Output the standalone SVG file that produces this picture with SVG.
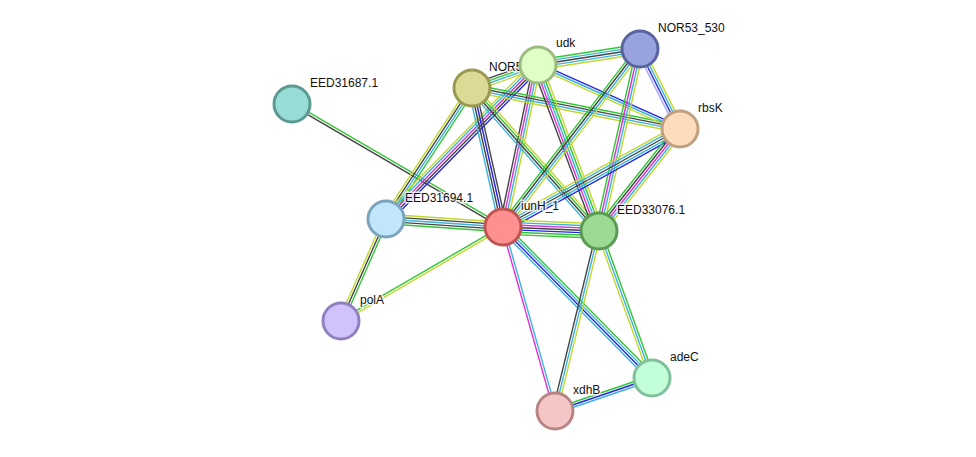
<svg xmlns="http://www.w3.org/2000/svg" width="976" height="457" viewBox="0 0 976 457">
<style>
line{stroke-width:1.4;fill:none}
.g{stroke:#33c733}.y{stroke:#c3d82e}.k{stroke:#444}.c{stroke:#3ab4dc}.b{stroke:#2424ee}.m{stroke:#dd2edd}.l{stroke:#a8a8ff}
circle{stroke-width:3}
text{font-family:"Liberation Sans",Arial,sans-serif;font-size:12px;fill:#111;stroke:#fff;stroke-width:3;stroke-opacity:0.8;paint-order:stroke;stroke-linejoin:round}
</style>
<rect width="976" height="457" fill="#fff"/>
<g id="edges">
<g transform="translate(292,104) rotate(30.24)"><line x2="244.2" y1="-1.2" y2="-1.2" class="g"/><line x2="244.2" y1="1.2" y2="1.2" class="k"/></g>
<g transform="translate(386,219) rotate(113.81)"><line x2="111.5" y1="-2.4" y2="-2.4" class="g"/><line x2="111.5" class="k"/><line x2="111.5" y1="2.4" y2="2.4" class="y"/></g>
<g transform="translate(341,321) rotate(-30.12)"><line x2="187.3" y1="-1.2" y2="-1.2" class="g"/><line x2="187.3" y1="1.2" y2="1.2" class="y"/></g>
<g transform="translate(386,219) rotate(3.91)"><line x2="117.3" y1="-4.8" y2="-4.8" class="y"/><line x2="117.3" y1="-2.4" y2="-2.4" class="k"/><line x2="117.3" class="c"/><line x2="117.3" y1="2.4" y2="2.4" class="k"/><line x2="117.3" y1="4.8" y2="4.8" class="g"/></g>
<g transform="translate(386,219) rotate(-56.72)"><line x2="156.7" y1="-3.6" y2="-3.6" class="y"/><line x2="156.7" y1="-1.2" y2="-1.2" class="k"/><line x2="156.7" y1="1.2" y2="1.2" class="c"/><line x2="156.7" y1="3.6" y2="3.6" class="g"/></g>
<g transform="translate(386,219) rotate(-45.56)"><line x2="215.7" y1="-4.8" y2="-4.8" class="y"/><line x2="215.7" y1="-2.4" y2="-2.4" class="c"/><line x2="215.7" class="m"/><line x2="215.7" y1="2.4" y2="2.4" class="k"/><line x2="215.7" y1="4.8" y2="4.8" class="b"/></g>
<g transform="translate(472,88) rotate(77.43)"><line x2="142.4" y1="-3.6" y2="-3.6" class="k"/><line x2="142.4" y1="-1.2" y2="-1.2" class="b"/><line x2="142.4" y1="1.2" y2="1.2" class="k"/><line x2="142.4" y1="3.6" y2="3.6" class="c"/></g>
<g transform="translate(537,65) rotate(101.85)"><line x2="165.5" y1="-3.6" y2="-3.6" class="y"/><line x2="165.5" y1="-1.2" y2="-1.2" class="c"/><line x2="165.5" y1="1.2" y2="1.2" class="m"/><line x2="165.5" y1="3.6" y2="3.6" class="k"/></g>
<g transform="translate(472,88) rotate(-19.49)"><line x2="68.9" y1="-3.6" y2="-3.6" class="k"/><line x2="68.9" y1="-1.2" y2="-1.2" class="g"/><line x2="68.9" y1="1.2" y2="1.2" class="c"/><line x2="68.9" y1="3.6" y2="3.6" class="y"/></g>
<g transform="translate(472,88) rotate(11.15)"><line x2="212" y1="-3.6" y2="-3.6" class="g"/><line x2="212" y1="-1.2" y2="-1.2" class="k"/><line x2="212" y1="1.2" y2="1.2" class="c"/><line x2="212" y1="3.6" y2="3.6" class="y"/></g>
<g transform="translate(472,88) rotate(48.39)"><line x2="191.3" y1="-3.6" y2="-3.6" class="y"/><line x2="191.3" y1="-1.2" y2="-1.2" class="g"/><line x2="191.3" y1="1.2" y2="1.2" class="k"/><line x2="191.3" y1="3.6" y2="3.6" class="c"/></g>
<g transform="translate(537,65) rotate(-8.83)"><line x2="104.2" y1="-4.8" y2="-4.8" class="g"/><line x2="104.2" y1="-2.4" y2="-2.4" class="c"/><line x2="104.2" class="k"/><line x2="104.2" y1="2.4" y2="2.4" class="c"/><line x2="104.2" y1="4.8" y2="4.8" class="y"/></g>
<g transform="translate(537,65) rotate(24.11)"><line x2="156.7" y1="-2.4" y2="-2.4" class="b"/><line x2="156.7" class="c"/><line x2="156.7" y1="2.4" y2="2.4" class="y"/></g>
<g transform="translate(537,65) rotate(69.52)"><line x2="177.2" y1="-4.8" y2="-4.8" class="y"/><line x2="177.2" y1="-2.4" y2="-2.4" class="g"/><line x2="177.2" class="c"/><line x2="177.2" y1="2.4" y2="2.4" class="m"/><line x2="177.2" y1="4.8" y2="4.8" class="k"/></g>
<g transform="translate(640,49) rotate(63.43)"><line x2="89.4" y1="-3.6" y2="-3.6" class="y"/><line x2="89.4" y1="-1.2" y2="-1.2" class="c"/><line x2="89.4" y1="1.2" y2="1.2" class="b"/><line x2="89.4" y1="3.6" y2="3.6" class="l"/></g>
<g transform="translate(640,49) rotate(127.59)"><line x2="224.6" y1="-3.6" y2="-3.6" class="y"/><line x2="224.6" y1="-1.2" y2="-1.2" class="c"/><line x2="224.6" y1="1.2" y2="1.2" class="k"/><line x2="224.6" y1="3.6" y2="3.6" class="g"/></g>
<g transform="translate(640,49) rotate(102.70)"><line x2="186.6" y1="-3.6" y2="-3.6" class="y"/><line x2="186.6" y1="-1.2" y2="-1.2" class="c"/><line x2="186.6" y1="1.2" y2="1.2" class="m"/><line x2="186.6" y1="3.6" y2="3.6" class="g"/></g>
<g transform="translate(680,129) rotate(151.03)"><line x2="202.3" y1="-4.8" y2="-4.8" class="b"/><line x2="202.3" y1="-2.4" y2="-2.4" class="c"/><line x2="202.3" class="k"/><line x2="202.3" y1="2.4" y2="2.4" class="c"/><line x2="202.3" y1="4.8" y2="4.8" class="y"/></g>
<g transform="translate(680,129) rotate(128.45)"><line x2="130.2" y1="-4.8" y2="-4.8" class="y"/><line x2="130.2" y1="-2.4" y2="-2.4" class="c"/><line x2="130.2" class="m"/><line x2="130.2" y1="2.4" y2="2.4" class="k"/><line x2="130.2" y1="4.8" y2="4.8" class="g"/></g>
<g transform="translate(503,227) rotate(2.39)"><line x2="96.1" y1="-7.2" y2="-7.2" class="y"/><line x2="96.1" y1="-4.8" y2="-4.8" class="c"/><line x2="96.1" y1="-2.4" y2="-2.4" class="m"/><line x2="96.1" class="k"/><line x2="96.1" y1="2.4" y2="2.4" class="b"/><line x2="96.1" y1="4.8" y2="4.8" class="g"/><line x2="96.1" y1="7.2" y2="7.2" class="g"/></g>
<g transform="translate(503,227) rotate(74.22)"><line x2="191.2" y1="-1.2" y2="-1.2" class="c"/><line x2="191.2" y1="1.2" y2="1.2" class="m"/></g>
<g transform="translate(503,227) rotate(45.38)"><line x2="212.1" y1="-3.6" y2="-3.6" class="g"/><line x2="212.1" y1="-1.2" y2="-1.2" class="c"/><line x2="212.1" y1="1.2" y2="1.2" class="b"/><line x2="212.1" y1="3.6" y2="3.6" class="c"/></g>
<g transform="translate(599,231) rotate(103.74)"><line x2="185.3" y1="-2.4" y2="-2.4" class="y"/><line x2="185.3" class="c"/><line x2="185.3" y1="2.4" y2="2.4" class="k"/></g>
<g transform="translate(599,231) rotate(70.17)"><line x2="156.3" y1="-2.4" y2="-2.4" class="g"/><line x2="156.3" class="c"/><line x2="156.3" y1="2.4" y2="2.4" class="y"/></g>
<g transform="translate(555,411) rotate(-18.79)"><line x2="102.5" y1="-2.4" y2="-2.4" class="g"/><line x2="102.5" class="b"/><line x2="102.5" y1="2.4" y2="2.4" class="c"/></g>
</g>
<g id="EED31687.1"><circle cx="292" cy="104" r="18" fill="#98ddd5" stroke="#5a9a92"/><text x="310" y="87">EED31687.1</text></g>
<g id="NOR5"><circle cx="472" cy="88" r="18" fill="#dcdb96" stroke="#9a994f"/><text x="489" y="71">NOR5</text></g>
<g id="udk"><circle cx="538" cy="65" r="18" fill="#dfffc6" stroke="#9cbb80"/><text x="556" y="47">udk</text></g>
<g id="NOR53_530"><circle cx="640" cy="49" r="18" fill="#98a3de" stroke="#5863a0"/><text x="658" y="32">NOR53_530</text></g>
<g id="rbsK"><circle cx="680" cy="129" r="18" fill="#fcdcbc" stroke="#c0a080"/><text x="698" y="112">rbsK</text></g>
<g id="EED31694.1"><circle cx="386" cy="219" r="18" fill="#c1e6fb" stroke="#7aa5bd"/><text x="405" y="202">EED31694.1</text></g>
<g id="iunH_1"><circle cx="503" cy="227" r="18" fill="#ff9090" stroke="#c05454"/><text x="521" y="210">iunH_1</text></g>
<g id="EED33076.1"><circle cx="599" cy="231" r="18" fill="#9cdc92" stroke="#5a9a52"/><text x="617" y="214">EED33076.1</text></g>
<g id="polA"><circle cx="341" cy="321" r="18" fill="#d2c2fb" stroke="#9080c0"/><text x="360" y="304">polA</text></g>
<g id="adeC"><circle cx="652" cy="378" r="18" fill="#c2fed8" stroke="#80c09a"/><text x="670" y="361">adeC</text></g>
<g id="xdhB"><circle cx="555" cy="411" r="18" fill="#f6c6c6" stroke="#b88484"/><text x="573" y="394">xdhB</text></g>
</svg>
